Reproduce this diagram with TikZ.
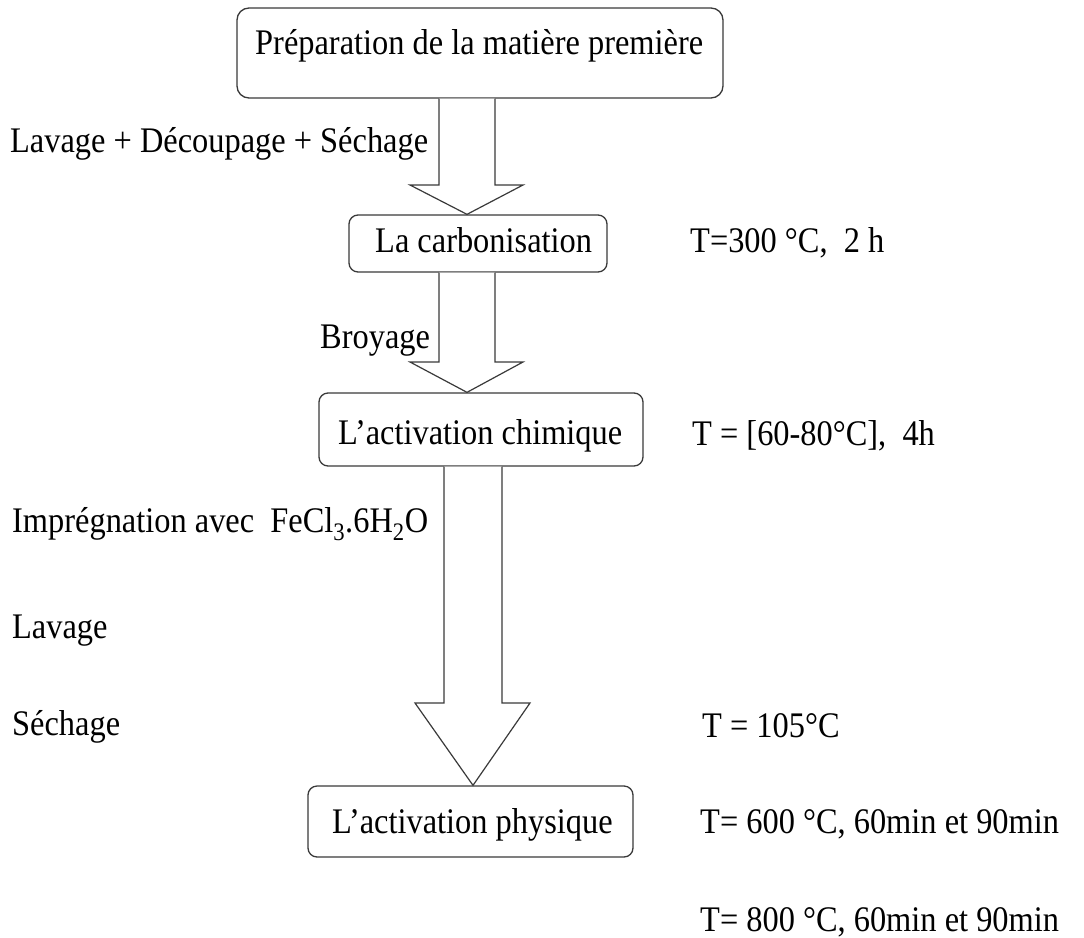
\documentclass[tikz,border=0pt]{standalone}
\usepackage{fontspec}
\setmainfont{Liberation Serif}[FakeStretch=0.9]
\usetikzlibrary{calc}
\definecolor{edge}{HTML}{3A3A3A}
\tikzset{
  box/.style={draw=edge, line width=1.3pt, rounded corners=9pt, fill=white, inner sep=0pt},
  lbl/.style={anchor=base west, inner sep=0pt, font=\fontsize{36}{40}\selectfont, text=black},
  blockarrow/.style={draw=edge, line width=1.2pt, fill=white, line join=miter},
}
\begin{document}
\begin{tikzpicture}[x=1pt,y=-1pt]
\useasboundingbox (0,0) rectangle (1084,937);
% boxes
\node[box, rounded corners=12pt, minimum width=486pt, minimum height=90pt] (b1) at (480,53) {};
\node[box, minimum width=258pt, minimum height=57pt] (b2) at (478,243.5) {};
\node[box, minimum width=324pt, minimum height=73pt] (b3) at (481,429.5) {};
\node[box, minimum width=325pt, minimum height=71pt] (b4) at (470.5,821.5) {};
% box texts
\node[lbl] (t1) at (255,54) {Préparation de la matière première};
\node[lbl] (t2) at (375,252) {La carbonisation};
\node[lbl] (t3) at (338,444) {L’activation chimique};
\node[lbl] (t4) at (332,833) {L’activation physique};
% block arrows
\draw[blockarrow] (439,0 |- b1.south) -- (439,185) -- (410,185) -- (467,0 |- b2.north) -- (523,185) -- (495,185) -- (495,0 |- b1.south);
\draw[blockarrow] (439,0 |- b2.south) -- (439,362) -- (410,362) -- (467,0 |- b3.north) -- (523,362) -- (495,362) -- (495,0 |- b2.south);
\draw[blockarrow] (444,0 |- b3.south) -- (444,703) -- (415,703) -- (473,0 |- b4.north) -- (530,703) -- (502,703) -- (502,0 |- b3.south);
% side labels
\node[lbl] (l1) at (10,152) {Lavage + Découpage + Séchage};
\node[lbl] (l2) at (320,348) {Broyage};
\node[lbl] (l3) at (12,532) {Imprégnation avec\ \ FeCl\textsubscript{3}.6H\textsubscript{2}O};
\node[lbl] (l4) at (12,638) {Lavage};
\node[lbl] (l5) at (12,735) {Séchage};
\node[lbl] (r1) at (690,252) {T=300 °C,\ \ 2 h};
\node[lbl] (r2) at (692,445) {T = [60-80°C],\ \ 4h};
\node[lbl] (r3) at (702,737) {T = 105°C};
\node[lbl] (r4) at (700,833) {T= 600 °C, 60min et 90min};
\node[lbl] (r5) at (700,931) {T= 800 °C, 60min et 90min};
\end{tikzpicture}
\end{document}
